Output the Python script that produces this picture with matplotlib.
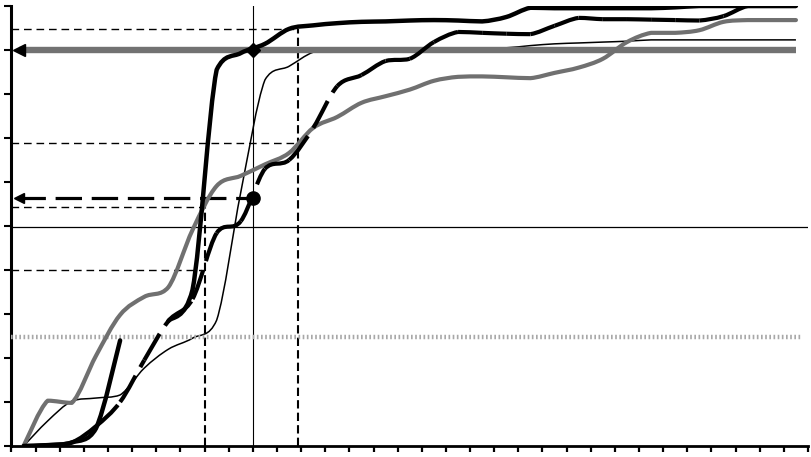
import numpy as np
import matplotlib
matplotlib.use("Agg")
import matplotlib.pyplot as plt
from matplotlib.path import Path
from matplotlib.patches import PathPatch

plt.rcParams["lines.scale_dashes"] = False

# 33 categories, points sit in the middle of each category
cat_x = np.arange(33) + 0.5

# thick solid curve (steepest one), gap where the series has no value
curve_steep = [0, 0.2, 0.8, 4.0, 24, np.nan, 28.4, 35.5, 85.5, 89.3, 91.4, 94.8,
               95.6, 96.1, 96.4, 96.5, 96.7, 96.8, 96.7, 96.5, 97.5, 99.6, 99.5,
               99.5, 99.5, 99.5, 99.5, 99.7, 100, 100, 100, 100, 100]
# thick long-dash curve (the one with the round marker)
curve_dash = [0, 0.2, 0.8, 4.5, 10, 19.5, 28.4, 33.4, 48.4, 51.1, 63, 65,
              72.3, 81.8, 84.3, 87.5, 88, 91.8, 94.1, 93.9, 93.7, 93.6, 95.5,
              97.3, 97, 97, 96.9, 96.8, 96.7, 97.7, 100, 100, 100]
# thick grey curve
curve_grey = [0, 10.3, 9.8, 20.5, 29.8, 33.9, 36.1, 49.1, 59.1, 61.4, 64, 66.6,
              72.3, 74.8, 78, 79.5, 81, 83, 83.9, 84, 83.8, 83.6, 84.8, 86,
              88, 91.8, 93.9, 93.9, 94.5, 96.4, 96.8, 96.8, 96.8]
# thin black curve
curve_thin = [0, 5.7, 10.2, 10.9, 11.6, 17.7, 22, 24.5, 28.6, 57.7, 83.2, 86.3,
              89.5, 90.2, 90.5, 90.5, 90.5, 90.5, 90.5, 90.5, 90.5, 91, 91.4,
              91.6, 91.8, 92, 92.3, 92.3, 92.3, 92.3, 92.3, 92.3, 92.3]

# reading lines
level_90 = 90.0
level_mark = 56.4
level_50 = 49.8
level_25 = 24.8
x_mark = 10.0
guide_h = [(94.8, 11.86), (68.9, 11.86), (54.3, 8.0), (40.0, 8.0)]
guide_v = [(8.0, 56.0), (11.86, 94.8)]


def smooth_runs(xs, ys):
    pts = np.column_stack([xs, np.asarray(ys, float)])
    runs, cur = [], []
    for p in pts:
        if np.isnan(p[1]):
            if len(cur) > 1:
                runs.append(np.array(cur))
            cur = []
        else:
            cur.append(p)
    if len(cur) > 1:
        runs.append(np.array(cur))
    out = []
    for r in runs:
        n = len(r)
        segs = []
        for i in range(n - 1):
            p0, p1 = r[max(i - 1, 0)], r[i]
            p2, p3 = r[i + 1], r[min(i + 2, n - 1)]
            c1 = p1 + (p2 - p0) / 6
            c2 = p2 - (p3 - p1) / 6
            # keep the handles inside the segment so the curve does not overshoot
            lo, hi = min(p1[1], p2[1]), max(p1[1], p2[1])
            c1[1] = np.clip(c1[1], lo, hi)
            c2[1] = np.clip(c2[1], lo, hi)
            segs.append([p1, c1, c2, p2])
        out.append(segs)
    return out


def draw_smooth(ax, xs, ys, per_segment=False, **kw):
    # smoothed line like the spreadsheet one; dashes restart on every segment
    for segs in smooth_runs(xs, ys):
        if per_segment:
            for s in segs:
                path = Path(s, [Path.MOVETO] + [Path.CURVE4] * 3)
                ax.add_patch(PathPatch(path, fill=False, **kw))
        else:
            verts = [segs[0][0]]
            codes = [Path.MOVETO]
            for s in segs:
                verts += list(s[1:])
                codes += [Path.CURVE4] * 3
            ax.add_patch(PathPatch(Path(verts, codes), fill=False, **kw))


fig = plt.figure(figsize=(8.12, 4.57), dpi=100)
ax = fig.add_axes([11.5 / 812, 1 - 446 / 457, (808 - 11.5) / 812, 440 / 457])
ax.set_xlim(0, 33)
ax.set_ylim(0, 100)

# guide lines
for lvl, xe in guide_h:
    ax.plot([0, xe], [lvl, lvl], color="black", lw=1.0, ls=(0, (5.5, 3.5)), zorder=2)
for xv, ye in guide_v:
    ax.plot([xv, xv], [0, ye], color="black", lw=1.5, ls=(0, (6, 3)), zorder=2)
ax.plot([x_mark, x_mark], [0, 100], color="black", lw=0.8, zorder=2)
ax.plot([0, 33], [level_50, level_50], color="black", lw=0.9, zorder=2)

# thin curve under the grey bands
draw_smooth(ax, cat_x, curve_thin, edgecolor="black", lw=1.1, zorder=3,
            joinstyle="round")

ax.plot([0, 32.7], [level_25, level_25], color="#a8a8a8", lw=3.2,
        ls=(0, (1.2, 1.8)), zorder=4)
ax.plot([0.3, 32.5], [level_90, level_90], color="#727272", lw=4.6, zorder=4,
        solid_capstyle="butt")
ax.plot([0.3], [level_90], marker="<", ms=8, color="black", zorder=6)

ax.plot([0.3, x_mark], [level_mark, level_mark], color="black", lw=2.3,
        ls=(0, (19, 7)), zorder=5)
ax.plot([0.3], [level_mark], marker="<", ms=7, color="black", zorder=6)

draw_smooth(ax, cat_x, curve_grey, edgecolor="#707070", lw=3.0, zorder=5,
            joinstyle="round", capstyle="round")
draw_smooth(ax, cat_x, curve_dash, per_segment=True, edgecolor="black", lw=3.0,
            ls=(0, (22, 7)), zorder=5, capstyle="butt")
draw_smooth(ax, cat_x, curve_steep, edgecolor="black", lw=3.2, zorder=5,
            joinstyle="round", capstyle="round")

ax.plot([x_mark], [level_90], marker="D", ms=7, color="black", zorder=7)
ax.plot([x_mark], [level_mark], marker="o", ms=9.5, color="black", zorder=7)

for side in ["top", "right"]:
    ax.spines[side].set_visible(False)
ax.spines["left"].set_linewidth(2.2)
ax.spines["bottom"].set_linewidth(2.0)
ax.set_xticks(range(34))
ax.set_yticks(range(0, 101, 10))
ax.tick_params(axis="y", length=5, width=1.5, labelleft=False)
ax.tick_params(axis="x", length=4.3, width=1.6, labelbottom=False)

fig.savefig("out.png", dpi=100)
